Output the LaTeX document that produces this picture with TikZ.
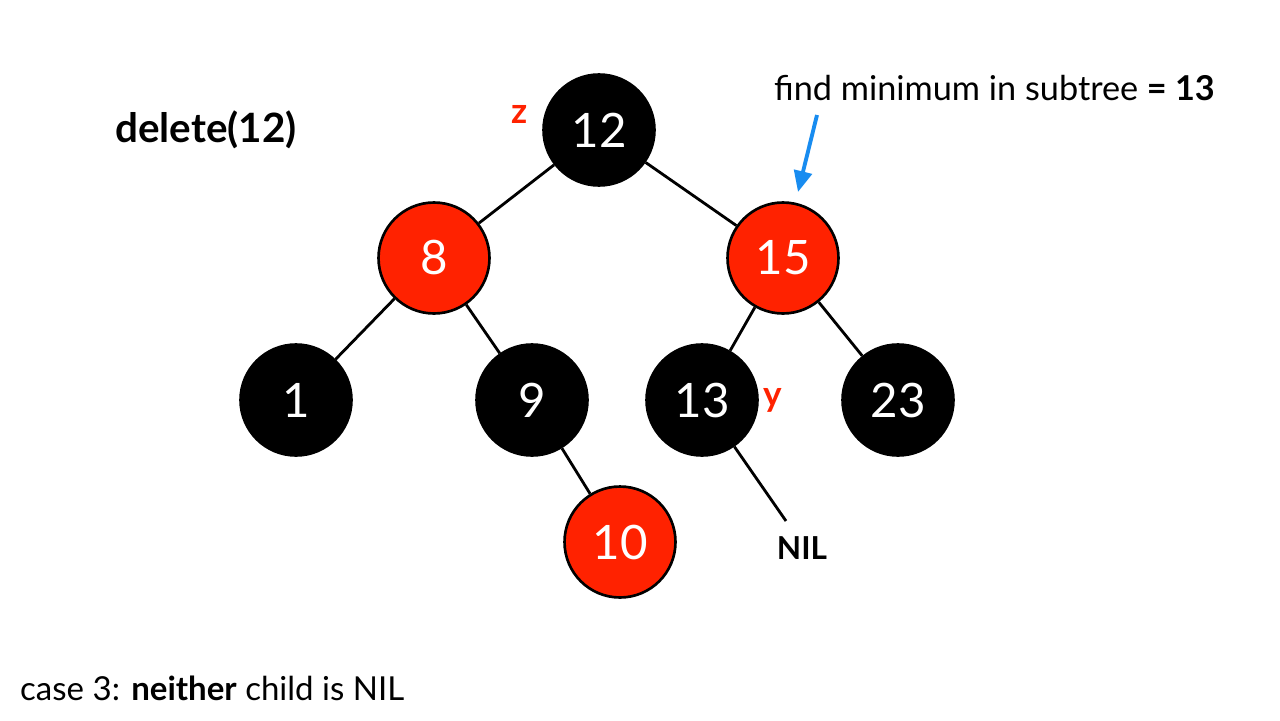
\documentclass[tikz,border=0pt]{standalone}
\usepackage{fontspec}
\setmainfont{Lato}
\usetikzlibrary{arrows.meta}
\definecolor{rbred}{RGB}{255,34,0}
\definecolor{hintblue}{RGB}{24,140,240}
\newcommand{\fs}[1]{\fontsize{#1}{#1}\selectfont}
\tikzset{
  blacknode/.style={circle, fill=black, draw=black, line width=1.5pt, minimum size=2.22cm, inner sep=0pt, text=white, font=\fs{27pt}},
  rednode/.style={blacknode, fill=rbred},
  treeedge/.style={line width=1.6pt},
  marker/.style={text=rbred, font=\bfseries\fs{20pt}}
}
\begin{document}
\begin{tikzpicture}[x=0.02cm, y=-0.02cm]
    \useasboundingbox (0,0) rectangle (1280,720);

    \node (n12) [blacknode] at (599,130) {12};
    \node (n8)  [rednode]   at (434,258) {8};
    \node (n15) [rednode]   at (783,258) {15};
    \node (n1)  [blacknode] at (296,400) {1};
    \node (n9)  [blacknode] at (532,400) {9};
    \node (n13) [blacknode] at (702,400) {13};
    \node (n23) [blacknode] at (898,400) {23};
    \node (n10) [rednode]   at (620,542) {10};

    \node (nil) [font=\bfseries\fs{18pt}] at (802,548) {NIL};
    \coordinate (niltop) at (786,521);

    \node (z) [marker] at (520,114) {z};
    \node (y) [marker] at (773,400) {y};

    \node (title) [anchor=west, font=\bfseries\fs{23pt}] at (109,130) {delete(12)};
    \node (hint) [anchor=west, font=\fs{19.5pt}] at (768,88) {find minimum in subtree \textbf{= 13}};
    \node (case) [anchor=west, font=\fs{18.8pt}] at (14,688) {case 3: \textbf{neither} child is NIL};
    \coordinate (hintstart) at (817,115);
    \coordinate (hintend) at (798,192);

    \draw[treeedge] (n12) -- (n8);
    \draw[treeedge] (n12) -- (n15);
    \draw[treeedge] (n8) -- (n1);
    \draw[treeedge] (n8) -- (n9);
    \draw[treeedge] (n9) -- (n10);
    \draw[treeedge] (n15) -- (n13);
    \draw[treeedge] (n15) -- (n23);
    \draw[treeedge] (n13) -- (niltop);

    \draw[hintblue, line width=2.2pt, -{Triangle[length=0.42cm, width=0.36cm]}]
      (hintstart) -- (hintend);
\end{tikzpicture}
\end{document}
